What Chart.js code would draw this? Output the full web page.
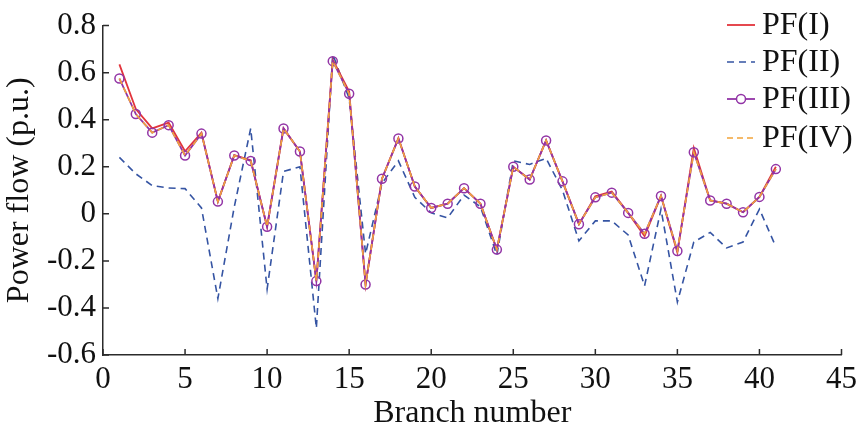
<!DOCTYPE html>
<html>
<head>
<meta charset="utf-8">
<script src="https://cdn.jsdelivr.net/npm/chart.js@4/dist/chart.umd.min.js"></script>
<style>
  html, body { margin: 0; padding: 0; background: #fff; }
  #wrap { width: 863px; height: 435px; }
</style>
</head>
<body>
<div id="wrap"><canvas id="chart1" width="863" height="435"></canvas></div>
<script>
var branches = [];
for (var i = 1; i <= 41; i++) branches.push(i);

var pf1 = [0.635, 0.445, 0.363, 0.388, 0.266, 0.345, 0.052, 0.25, 0.228, -0.055,
           0.363, 0.265, -0.286, 0.655, 0.52, -0.3, 0.149, 0.322, 0.116, 0.025,
           0.043, 0.109, 0.043, -0.152, 0.2, 0.146, 0.312, 0.138, -0.044, 0.075,
           0.095, 0.004, -0.095, 0.076, -0.165, 0.28, 0.057, 0.043, 0.007, 0.072, 0.2];
var pf2 = [0.24, 0.17, 0.12, 0.11, 0.107, 0.025, -0.36, 0.03, 0.363, -0.32,
           0.18, 0.2, -0.486, 0.678, 0.49, -0.17, 0.13, 0.225, 0.07, 0.004,
           -0.017, 0.08, 0.03, -0.175, 0.225, 0.21, 0.236, 0.1, -0.115, -0.03,
           -0.03, -0.09, -0.306, 0.02, -0.375, -0.12, -0.079, -0.145, -0.12, 0.02, -0.14];
var pf3 = [0.575, 0.424, 0.345, 0.377, 0.248, 0.341, 0.052, 0.248, 0.225, -0.055,
           0.363, 0.265, -0.286, 0.649, 0.51, -0.3, 0.149, 0.32, 0.116, 0.025,
           0.043, 0.109, 0.043, -0.152, 0.2, 0.146, 0.312, 0.138, -0.044, 0.07,
           0.09, 0.004, -0.085, 0.076, -0.158, 0.262, 0.057, 0.043, 0.007, 0.072, 0.19];
var pf4 = [0.575, 0.424, 0.345, 0.377, 0.248, 0.341, 0.052, 0.248, 0.225, -0.055,
           0.363, 0.265, -0.286, 0.649, 0.51, -0.3, 0.149, 0.32, 0.116, 0.025,
           0.043, 0.109, 0.043, -0.152, 0.2, 0.146, 0.312, 0.138, -0.044, 0.07,
           0.09, 0.004, -0.085, 0.076, -0.158, 0.262, 0.057, 0.043, 0.007, 0.072, 0.19];

var xTicks = [0, 5, 10, 15, 20, 25, 30, 35, 40, 45];
var yTicks = [-0.6, -0.4, -0.2, 0, 0.2, 0.4, 0.6, 0.8];
var seriesNames = ["PF(I)", "PF(II)", "PF(III)", "PF(IV)"];

var FONT = "'Liberation Serif', 'Times New Roman', serif";
var AXIS = "#2b2b2b";

function pts(vals) {
    return vals.map(function (v, i) { return { x: branches[i], y: v }; });
}

// inward tick marks, like the original plot
var tickMarks = {
    id: 'tickMarks',
    afterDraw: function (chart) {
        var ctx = chart.ctx, a = chart.chartArea;
        var xs = chart.scales.x, ys = chart.scales.y;
        ctx.save();
        ctx.strokeStyle = AXIS;
        ctx.lineWidth = 1.5;
        ctx.beginPath();
        xTicks.forEach(function (t) {
            var px = xs.getPixelForValue(t);
            ctx.moveTo(px, a.bottom);
            ctx.lineTo(px, a.bottom - 6);
        });
        yTicks.forEach(function (t) {
            var py = ys.getPixelForValue(t);
            ctx.moveTo(a.left, py);
            ctx.lineTo(a.left + 6, py);
        });
        ctx.stroke();
        ctx.restore();
    }
};

// legend drawn inside the plot, top right
var cornerLegend = {
    id: 'cornerLegend',
    afterDatasetsDraw: function (chart) {
        var ctx = chart.ctx;
        var x0 = 727, x1 = 755, tx = 762;
        var rows = [25, 62, 99, 138];
        ctx.save();
        ctx.font = "32px " + FONT;
        ctx.textBaseline = 'middle';
        ctx.fillStyle = '#111';
        seriesNames.forEach(function (name, i) {
            var ds = chart.data.datasets.find(function (d) { return d.label === name; });
            var y = rows[i];
            ctx.strokeStyle = ds.borderColor;
            ctx.lineWidth = ds.borderWidth;
            ctx.setLineDash(ds.borderDash || []);
            ctx.beginPath();
            ctx.moveTo(x0, y);
            ctx.lineTo(x1, y);
            ctx.stroke();
            ctx.setLineDash([]);
            if (ds.pointRadius > 0) {
                ctx.lineWidth = ds.pointBorderWidth;
                ctx.fillStyle = '#fff';
                ctx.beginPath();
                ctx.arc((x0 + x1) / 2, y, ds.pointRadius, 0, Math.PI * 2);
                ctx.fill();
                ctx.stroke();
            }
            ctx.fillStyle = '#111';
            ctx.fillText(name, tx, y + 1);
        });
        ctx.restore();
    }
};

new Chart(document.getElementById('chart1').getContext('2d'), {
    type: 'line',
    data: {
        datasets: [{
            label: seriesNames[0],
            data: pts(pf1),
            borderColor: '#e2343c',
            borderWidth: 1.8,
            pointRadius: 0,
            order: 2
        }, {
            label: seriesNames[1],
            data: pts(pf2),
            borderColor: '#3554a3',
            borderWidth: 1.6,
            borderDash: [7, 5],
            pointRadius: 0,
            order: 3
        }, {
            label: seriesNames[2],
            data: pts(pf3),
            borderColor: '#9234a6',
            borderWidth: 1.8,
            pointRadius: 4.5,
            pointBorderWidth: 1.5,
            pointBorderColor: '#9234a6',
            pointBackgroundColor: 'rgba(255,255,255,0)',
            order: 1
        }, {
            label: seriesNames[3],
            data: pts(pf4),
            borderColor: '#f2a43a',
            borderWidth: 1.6,
            borderDash: [6, 4],
            pointRadius: 0,
            order: 0
        }]
    },
    options: {
        responsive: false,
        animation: false,
        layout: { padding: { top: 18, right: 14, left: 0, bottom: 0 } },
        plugins: { legend: { display: false }, tooltip: { enabled: false } },
        scales: {
            x: {
                type: 'linear',
                min: 0, max: 45,
                afterBuildTicks: function (s) { s.ticks = xTicks.map(function (v) { return { value: v }; }); },
                afterFit: function (s) { s.height = 80; },
                grid: { display: false, drawTicks: false },
                border: { display: true, color: AXIS, width: 1.5 },
                ticks: { color: '#111', padding: 6, maxRotation: 0, autoSkip: false,
                         font: { family: FONT, size: 31 } },
                title: { display: true, text: 'Branch number', color: '#111',
                         font: { family: FONT, size: 32 }, padding: { top: 0, bottom: 2 } }
            },
            y: {
                min: -0.6, max: 0.8,
                afterBuildTicks: function (s) { s.ticks = yTicks.map(function (v) { return { value: v }; }); },
                afterFit: function (s) { s.width = 103; },
                grid: { display: false, drawTicks: false },
                border: { display: true, color: AXIS, width: 1.5 },
                ticks: { color: '#111', padding: 7, autoSkip: false,
                         font: { family: FONT, size: 31 },
                         callback: function (v) { return v === 0 ? '0' : String(Math.round(v * 10) / 10); } },
                title: { display: true, text: 'Power flow (p.u.)', color: '#111',
                         font: { family: FONT, size: 32 }, padding: 0 }
            }
        }
    },
    plugins: [tickMarks, cornerLegend]
});
</script>
</body>
</html>
